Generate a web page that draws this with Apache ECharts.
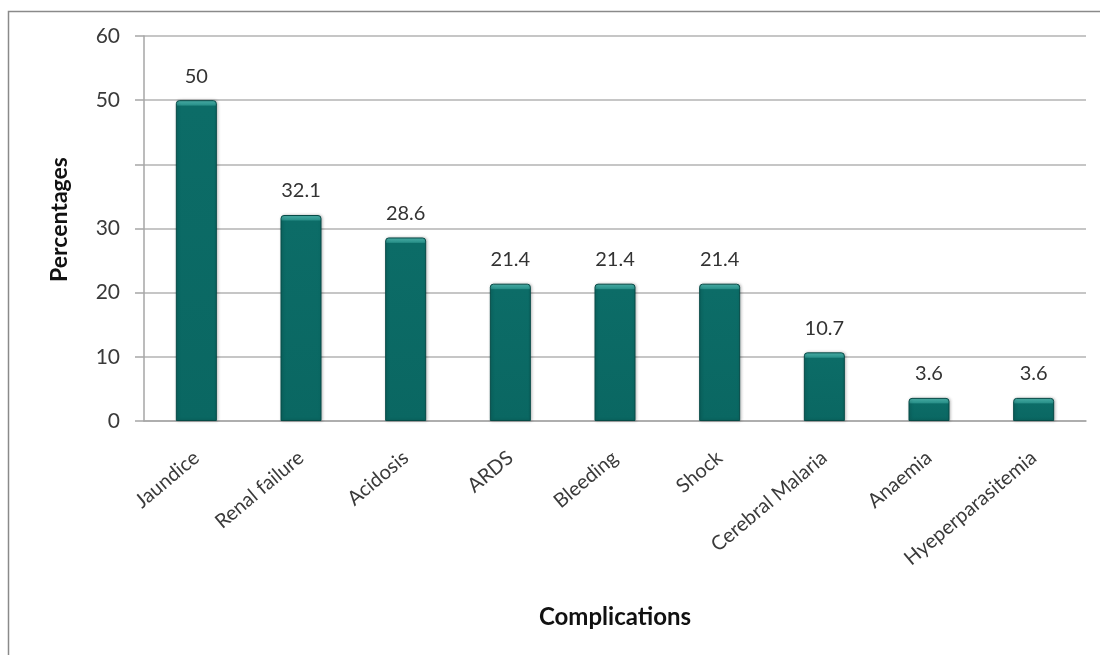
<!DOCTYPE html>
<html>
<head>
<meta charset="utf-8">
<script src="https://cdn.jsdelivr.net/npm/echarts@6/dist/echarts.min.js"></script>
<style>
  html, body { margin: 0; padding: 0; background: #fff; }
  #chart { width: 1100px; height: 655px; }
</style>
</head>
<body>
<div id="chart"></div>
<script>
var categories = ['Jaundice', 'Renal failure', 'Acidosis', 'ARDS', 'Bleeding', 'Shock', 'Cerebral Malaria', 'Anaemia', 'Hyeperparasitemia'];
var percentages = [50, 32.1, 28.6, 21.4, 21.4, 21.4, 10.7, 3.6, 3.6];
var yTicks = [0, 10, 20, 30, 50, 60]; // 40 is not labelled in the original

var font = 'Lato, "Open Sans", sans-serif';
var plotHeight = 385;
var yMax = 60;

// bar fill: dark teal body with a lighter cap on top
function barStyle(v) {
  var h = v / yMax * plotHeight;
  var cap = Math.min(0.45, 6 / h);
  return {
    color: {
      type: 'linear', x: 0, y: 0, x2: 0, y2: 1,
      colorStops: [
        { offset: 0, color: '#4fb8b0' },
        { offset: cap * 0.8, color: '#2a918a' },
        { offset: cap, color: '#0c6c67' },
        { offset: 1, color: '#0a6762' }
      ]
    },
    borderColor: '#064a46',
    borderWidth: 1,
    borderRadius: [3, 3, 0, 0],
    shadowColor: 'rgba(0,0,0,0.25)',
    shadowBlur: 3,
    shadowOffsetX: 1
  };
}

var seriesData = percentages.map(function (v) {
  return { value: v, itemStyle: barStyle(v) };
});

var myChart = echarts.init(document.getElementById('chart'));
myChart.setOption({
  animation: false,
  backgroundColor: '#fff',
  textStyle: { fontFamily: font },
  graphic: [{
    type: 'polyline',
    shape: { points: [[8.5, 655], [8.5, 11.5], [1100, 11.5]] },
    style: { stroke: '#8a8a8a', lineWidth: 1.5, fill: null }
  }],
  grid: { left: 144, right: 14, top: 36, bottom: 234 },
  xAxis: {
    type: 'category',
    data: categories,
    name: 'Complications',
    nameLocation: 'middle',
    nameGap: 184,
    nameTextStyle: { fontFamily: font, fontSize: 24, fontWeight: 'bold', color: '#111' },
    axisLine: { lineStyle: { color: '#a6a6a6', width: 1.5 } },
    axisTick: { show: false },
    axisLabel: {
      rotate: 40,
      interval: 0,
      margin: 34,
      fontFamily: font,
      fontSize: 20,
      color: '#3a3a3a'
    }
  },
  yAxis: {
    type: 'value',
    min: 0,
    max: yMax,
    interval: 10,
    name: 'Percentages',
    nameLocation: 'middle',
    nameGap: 73,
    nameRotate: 90,
    nameTextStyle: { fontFamily: font, fontSize: 23, fontWeight: 'bold', color: '#111', padding: [0, 0, 0, 18] },
    axisLine: { show: true, lineStyle: { color: '#a6a6a6', width: 1.5 } },
    axisTick: { show: true, length: 9, lineStyle: { color: '#a6a6a6', width: 1.5 } },
    splitLine: { lineStyle: { color: '#b3b3b3', width: 1.5 } },
    axisLabel: {
      margin: 24,
      fontFamily: font,
      fontSize: 21,
      color: '#3a3a3a',
      formatter: function (v) { return yTicks.indexOf(v) >= 0 ? String(v) : ''; }
    }
  },
  series: [{
    type: 'bar',
    data: seriesData,
    barWidth: 41,
    label: {
      show: true,
      position: 'top',
      distance: 14,
      fontFamily: font,
      fontSize: 20,
      color: '#333'
    }
  }]
});
</script>
</body>
</html>
